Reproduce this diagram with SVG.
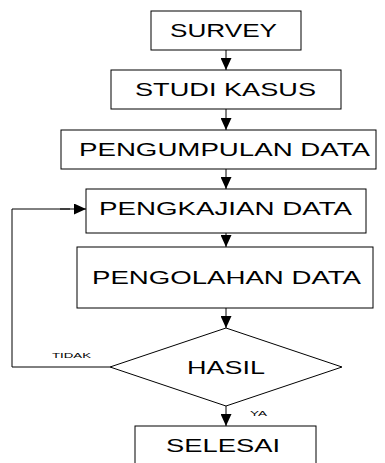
<svg xmlns="http://www.w3.org/2000/svg" width="385" height="463" viewBox="0 0 385 463">
  <style>
    .box { fill: #fff; stroke: #000; stroke-width: 1; }
    .lbl { font-family: "Liberation Sans", Arial, sans-serif; font-size: 18px; fill: #000; text-anchor: start; }
    .small { font-family: "Liberation Sans", Arial, sans-serif; font-size: 8px; fill: #000; }
    .edge { fill: none; stroke: #000; stroke-width: 1; marker-end: url(#arrow); }
    .plain { fill: none; stroke: #000; stroke-width: 1; }
  </style>
  <defs>
    <marker id="arrow" markerUnits="userSpaceOnUse" markerWidth="12" markerHeight="11" refX="12" refY="5.5" orient="auto">
      <path d="M0,0 L12,5.5 L0,11 Z" fill="#000"/>
    </marker>
  </defs>
  <rect width="385" height="463" fill="#fff"/>

  <g id="connectors">
    <line class="edge" x1="226" y1="50" x2="226" y2="70"/>
    <line class="edge" x1="226" y1="109" x2="226" y2="130"/>
    <line class="edge" x1="226" y1="169" x2="226" y2="189"/>
    <line class="edge" x1="226" y1="233" x2="226" y2="247"/>
    <line class="edge" x1="226" y1="308" x2="226" y2="328"/>
    <line class="edge" x1="226" y1="406" x2="226" y2="426"/>
    <polyline class="plain" points="110,367 12,367 12,209 70,209"/>
    <line class="edge" x1="60" y1="209" x2="86" y2="209"/>
    <text class="small" x="52" y="358" textLength="39" lengthAdjust="spacingAndGlyphs">TIDAK</text>
    <text class="small" x="250" y="416" textLength="17" lengthAdjust="spacingAndGlyphs">YA</text>
  </g>

  <g id="survey">
    <rect class="box" x="151" y="11" width="150" height="39"/>
    <text class="lbl" x="170" y="36.5" textLength="107" lengthAdjust="spacingAndGlyphs">SURVEY</text>
  </g>
  <g id="studi-kasus">
    <rect class="box" x="111" y="70" width="230" height="39"/>
    <text class="lbl" x="135" y="95.5" textLength="181" lengthAdjust="spacingAndGlyphs">STUDI KASUS</text>
  </g>
  <g id="pengumpulan-data">
    <rect class="box" x="61" y="130" width="315" height="39"/>
    <text class="lbl" x="79" y="155.5" textLength="291" lengthAdjust="spacingAndGlyphs">PENGUMPULAN DATA</text>
  </g>
  <g id="pengkajian-data">
    <rect class="box" x="86" y="189" width="280" height="44"/>
    <text class="lbl" x="99" y="214.5" textLength="253" lengthAdjust="spacingAndGlyphs">PENGKAJIAN DATA</text>
  </g>
  <g id="pengolahan-data">
    <rect class="box" x="77" y="247" width="296" height="61"/>
    <text class="lbl" x="92" y="284" textLength="269" lengthAdjust="spacingAndGlyphs">PENGOLAHAN DATA</text>
  </g>
  <g id="hasil">
    <polygon class="box" points="226,328 342,367 226,406 110,367"/>
    <text class="lbl" x="187" y="373.5" textLength="78" lengthAdjust="spacingAndGlyphs">HASIL</text>
  </g>
  <g id="selesai">
    <rect class="box" x="135" y="426" width="181" height="60"/>
    <text class="lbl" x="166" y="452" textLength="114" lengthAdjust="spacingAndGlyphs">SELESAI</text>
  </g>
</svg>
